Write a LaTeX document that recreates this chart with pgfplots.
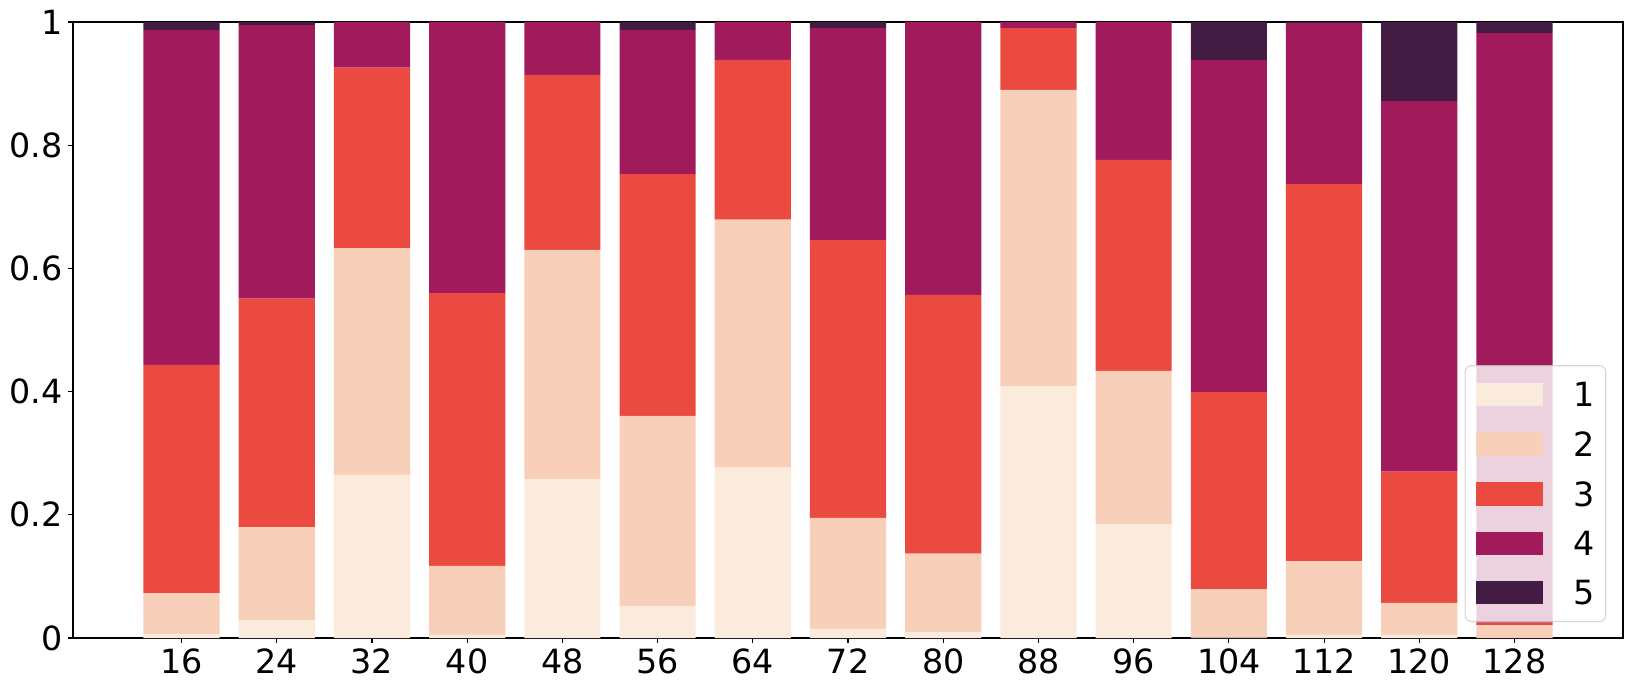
\documentclass[border=0pt]{standalone}
\usepackage{pgfplots}
\pgfplotsset{compat=1.18}
\usepackage{pgfplotstable}
\usepackage{fontspec}
\setmainfont{DejaVu Sans}
\definecolor{c1}{HTML}{FAEBDD}
\definecolor{c2}{HTML}{F8D0BA}
\definecolor{c3}{HTML}{EB4A40}
\definecolor{c4}{HTML}{A11A5B}
\definecolor{c5}{HTML}{431C44}
\pgfplotstableread{
x s1 s2 s3 s4 s5
0 0.006 0.067 0.3705 0.5435 0.013
1 0.029 0.151 0.371 0.444 0.005
2 0.265 0.368 0.293 0.074 0.0
3 0.005 0.112 0.443 0.440 0.0
4 0.258 0.372 0.284 0.086 0.0
5 0.052 0.3085 0.3925 0.234 0.013
6 0.2775 0.4015 0.2595 0.0615 0.0
7 0.015 0.180 0.451 0.344 0.010
8 0.009 0.128 0.420 0.443 0.0
9 0.409 0.481 0.100 0.010 0.0
10 0.185 0.2485 0.3425 0.224 0.0
11 0.001 0.078 0.320 0.5395 0.0615
12 0.005 0.120 0.612 0.261 0.002
13 0.005 0.052 0.213 0.602 0.128
14 0.0 0.021 0.004 0.957 0.018
}\data
\begin{document}
\begin{tikzpicture}
\begin{axis}[
  name=ax,
  scale only axis, width=1116pt, height=443.52pt,
  ybar stacked, bar width=0.8,
  xmin=-1.14, xmax=15.14, ymin=0, ymax=1,
  enlargelimits=false,
  xtick={0,...,14},
  xticklabels={16,24,32,40,48,56,64,72,80,88,96,104,112,120,128},
  ytick={0,0.2,0.4,0.6,0.8,1},
  yticklabels={0,0.2,0.4,0.6,0.8,1},
  tick align=outside, xtick pos=bottom, ytick pos=left,
  major tick length=3.5pt,
  tick style={black, line width=0.8pt},
  axis line style={line width=0.8pt},
  tick label style={font=\fontsize{24}{29}\selectfont, inner sep=4pt},
  /pgf/number format/assume math mode=true,
  legend style={at={(1,0)}, anchor=south east, xshift=-12pt, yshift=11.5pt,
    fill=white, fill opacity=0.8, draw opacity=0.8, text opacity=1,
    draw=black!20, line width=0.8pt, rounded corners=4.5pt,
    font=\fontsize{24}{29}\selectfont,
    inner xsep=8pt, inner ysep=12pt,
    row sep=18pt, column sep=22pt,
    nodes={inner sep=0pt, text depth=0pt}},
  legend cell align=left,
  legend image code/.code={\fill[#1, fill opacity=1, draw=none, sharp corners] (0pt,-8.5pt) rectangle (48pt,8.5pt);},
]
\addplot[fill=c1, draw=none] table[x=x, y=s1]{\data};
\addplot[fill=c2, draw=none] table[x=x, y=s2]{\data};
\addplot[fill=c3, draw=none] table[x=x, y=s3]{\data};
\addplot[fill=c4, draw=none] table[x=x, y=s4]{\data};
\addplot[fill=c5, draw=none] table[x=x, y=s5]{\data};
\legend{1,2,3,4,5}
\end{axis}
\pgfresetboundingbox
\path (ax.south west) ++(-52.56pt,-38.16pt) coordinate (bl);
\path (ax.north east) ++(7.2pt,15.84pt) coordinate (tr);
\useasboundingbox (bl) rectangle (tr);
\end{tikzpicture}
\end{document}
